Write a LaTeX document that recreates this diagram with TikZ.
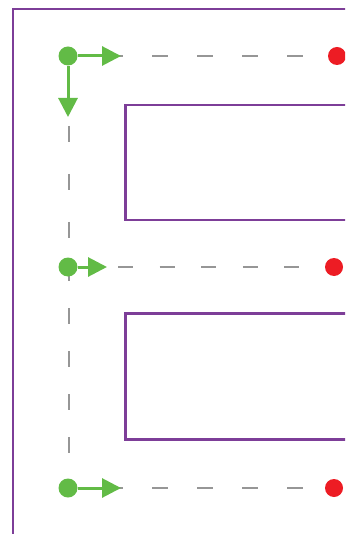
\documentclass[tikz,border=0pt]{standalone}
\usetikzlibrary{arrows.meta}
\definecolor{wallpurple}{RGB}{125,62,152}
\definecolor{dotgreen}{RGB}{98,187,70}
\definecolor{dotred}{RGB}{237,28,36}
\definecolor{dashgray}{RGB}{150,150,150}
\begin{document}
\begin{tikzpicture}[x=1pt, y=-1pt,
  wall/.style={wallpurple, line width=2.5pt},
  gdot/.style={circle, fill=dotgreen, inner sep=0pt, minimum size=19pt},
  rdot/.style={circle, fill=dotred, inner sep=0pt, minimum size=18pt},
  garrow/.style={dotgreen, line width=3pt, -{Triangle[length=19pt, width=19pt]}},
  hdash/.style={dashgray, line width=2pt, dash pattern=on 16pt off 29pt},
  vdash/.style={dashgray, line width=2pt, dash pattern=on 16pt off 27pt}]
\useasboundingbox (0,0) rectangle (345,534);
\clip (0,0) rectangle (345,534);
% walls
\draw[wall] (13,540) -- (13,9) -- (350,9);
\draw[wall] (350,105) -- (125.5,105) -- (125.5,220) -- (350,220);
\draw[wall] (350,313.5) -- (125.5,313.5) -- (125.5,439.5) -- (350,439.5);
% points
\coordinate (t1) at (121,56);
\coordinate (t2) at (68,117);
\coordinate (t3) at (107,267);
\coordinate (t4) at (121,488);
\coordinate (h1) at (107,56);
\coordinate (h2) at (118,267);
\coordinate (h3) at (107,488);
\coordinate (v1) at (68.5,126);
\coordinate (v2) at (68.5,265);
% dashed paths
\node[rdot] (e1) at (337,56) {};
\node[rdot] (e2) at (334,267) {};
\node[rdot] (e3) at (334,488) {};
\draw[hdash] (h1) -- (e1);
\draw[hdash, dash pattern=on 15pt off 26.6pt] (h2) -- (e2);
\draw[hdash] (h3) -- (e3);
\draw[vdash, dash pattern=on 16pt off 32pt] (v1) -- (68.5,258);
\draw[vdash] (v2) -- (68.5,480);
% start points and arrows
\node[gdot] (s1) at (68,56) {};
\node[gdot] (s2) at (68,267) {};
\node[gdot] (s3) at (68,488) {};
\draw[garrow] (s1) -- (t1);
\draw[garrow] (s1) -- (t2);
\draw[garrow] (s2) -- (t3);
\draw[garrow] (s3) -- (t4);
\end{tikzpicture}
\end{document}
